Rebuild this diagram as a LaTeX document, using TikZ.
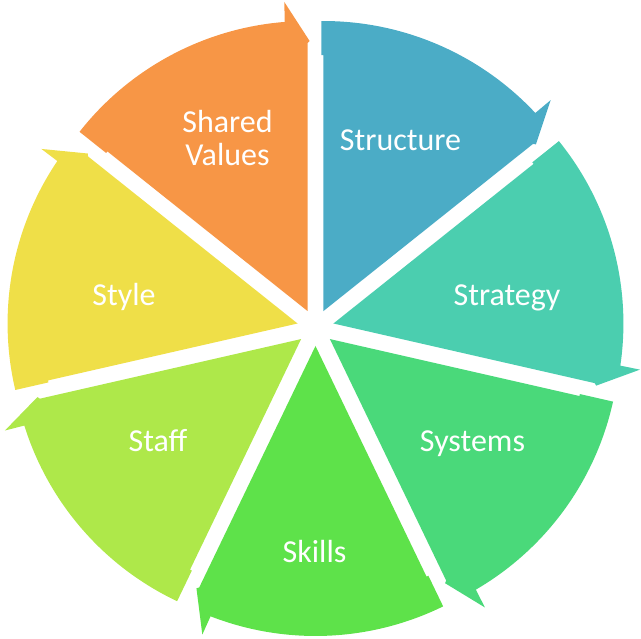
\documentclass[tikz,border=0pt]{standalone}
\usepackage{fontspec}
\setmainfont{Carlito}
\usetikzlibrary{calc}
\definecolor{cA}{HTML}{4BACC6}
\definecolor{cB}{HTML}{4BCEAF}
\definecolor{cC}{HTML}{4AD97A}
\definecolor{cD}{HTML}{5EE24A}
\definecolor{cE}{HTML}{AEE84A}
\definecolor{cF}{HTML}{EFDF48}
\definecolor{cG}{HTML}{F79646}
\begin{document}
\begin{tikzpicture}[x=1pt,y=1pt,
  lbl/.style={text=white,font=\fontsize{32}{34}\selectfont,anchor=base,inner sep=0pt}]
\useasboundingbox (0,0) rectangle (641,639);
\coordinate (c) at (315.5,311.4);
\foreach \i/\col in {0/cA,1/cB,2/cC,3/cD,4/cE,5/cF,6/cG}{
  \pgfmathsetmacro\s{90-360/7*\i}
  \pgfmathsetmacro\e{\s-360/7}
  \pgfmathsetmacro\b{\s-180/7}
  \coordinate (A\i) at ($(c)+(\b:18.4)$);
  \fill[\col] (A\i) -- ($(A\i)+(\s:256)$) -- ($(A\i)+(\s+0.45:256)$)
     -- ($(A\i)+(\s+0.4:290)$)
     arc[start angle=\s+0.4, end angle=\e+4.5, radius=290]
     -- ($(A\i)+(\e+4.3:310)$) -- ($(A\i)+(\e-0.45:270)$)
     -- ($(A\i)+(\e:268)$) -- cycle;
}
\node[lbl] (structure) at (400.5,488) {Structure};
\node[lbl] (strategy) at (507,333) {Strategy};
\node[lbl] (systems) at (472.5,187) {Systems};
\node[lbl] (skills) at (314.5,76) {Skills};
\node[lbl] (staff) at (158,187) {Staff};
\node[lbl] (style) at (124,333) {Style};
\node[lbl] (shared) at (227.5,506) {Shared};
\node[lbl] (values) at (227.5,473) {Values};
\end{tikzpicture}
\end{document}
